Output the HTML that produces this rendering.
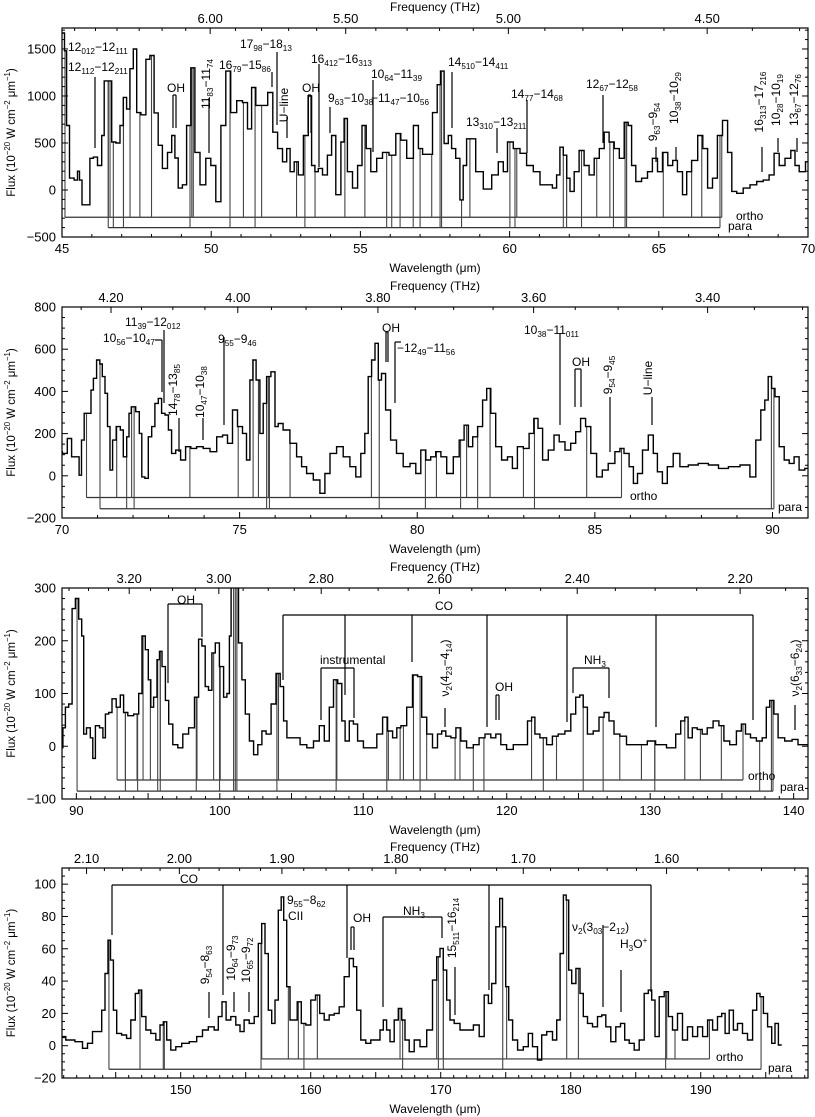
<!DOCTYPE html>
<html><head><meta charset="utf-8"><style>
html,body{margin:0;padding:0;background:#fff}
svg{display:block;font-family:"Liberation Sans",Arial,sans-serif}
</style></head><body>
<svg id="chart" xmlns="http://www.w3.org/2000/svg" width="815" height="1117" viewBox="0 0 815 1117"></svg>
<script>
// ---------- Panel 1 data ----------
const p1Wave=[45.04,45.13,45.18,45.32,45.49,45.55,45.62,45.72,45.88,45.99,46.11,46.27,46.39,46.44,46.61,46.72,46.89,47.0,47.11,47.22,47.33,47.45,47.56,47.73,47.89,48.0,48.17,48.28,48.45,48.62,48.73,48.84,48.95,49.12,49.23,49.4,49.51,49.74,49.9,50.07,50.24,50.41,50.57,50.74,50.97,51.13,51.3,51.41,51.58,51.8,51.99,52.14,52.31,52.47,52.59,52.7,52.86,52.98,53.2,53.31,53.42,53.53,53.65,53.81,53.98,54.09,54.26,54.43,54.48,54.65,54.82,54.99,55.12,55.27,55.43,55.66,55.82,56.1,56.27,56.44,56.66,56.89,57.0,57.17,57.33,57.5,57.65,57.72,57.89,58.0,58.11,58.28,58.39,58.5,58.62,58.78,58.95,59.29,59.51,59.73,59.85,60.01,60.24,60.46,60.68,60.91,61.13,61.35,61.52,61.63,61.74,61.86,61.97,62.08,62.25,62.41,62.58,62.75,62.92,63.09,63.25,63.42,63.59,63.76,63.92,64.03,64.15,64.31,64.54,64.7,64.87,65.04,65.21,65.39,65.54,65.71,65.88,65.99,66.21,66.4,66.55,66.72,66.88,67.05,67.22,67.39,67.5,67.72,67.94,68.17,68.39,68.61,68.78,68.95,69.12,69.34,69.51,69.62,69.79,70.04];
const p1Flux=[1670,1480,686,127,105,200,105,-158,-158,337,350,260,580,1160,1160,510,500,686,985,860,1290,1500,823,800,1390,1430,820,475,230,400,580,340,20,55,686,1300,400,55,337,260,-125,686,1265,823,950,930,650,1090,900,900,1037,615,440,300,440,195,300,160,580,1000,260,195,230,160,370,580,-50,510,760,195,20,260,686,440,195,337,400,370,600,530,337,686,440,380,380,823,1120,1265,495,580,440,337,-105,260,545,545,195,10,160,300,195,510,440,390,260,195,55,55,20,160,455,370,125,-15,195,420,260,160,337,440,615,510,440,337,720,686,260,90,125,195,337,195,400,260,315,195,-50,195,315,580,440,20,125,580,740,400,-15,-35,20,55,90,105,160,390,260,337,420,260,195,300];
const p1Ortho=[45.1,46.55,46.61,47.06,47.28,47.61,48.0,49.35,49.4,51.08,51.69,52.86,53.48,54.48,55.15,57.39,58.67,60.24,61.91,62.92,63.36,63.92,65.15,66.1,66.44,67.11];
const p1Para=[46.55,46.72,47.06,49.29,50.63,51.47,53.14,55.88,56.05,56.33,56.77,57.0,57.67,57.72,58.39,60.01,60.18,61.8,61.91,62.41,63.48,63.87,63.92,67.05];
const p1YTicks=[-500,0,500,1000,1500];
const p1XTicks=[45,50,55,60,65,70];
const p1FTicks=[6.00,5.50,5.00,4.50];

// ---------- Panel 2 data ----------
const p2Wave=[69.94,70.08,70.22,70.32,70.46,70.5,70.6,70.65,70.79,70.84,70.93,71.02,71.11,71.16,71.26,71.3,71.4,71.45,71.6,71.68,71.77,71.87,71.9,72.0,72.15,72.2,72.29,72.38,72.48,72.57,72.66,72.76,72.85,72.95,73.04,73.13,73.27,73.41,73.55,73.7,73.88,74.07,74.26,74.45,74.59,74.73,74.87,75.01,75.15,75.24,75.34,75.41,75.52,75.62,75.71,75.81,75.95,76.04,76.13,76.32,76.51,76.7,76.79,76.98,77.17,77.35,77.45,77.64,77.82,78.01,78.2,78.34,78.48,78.57,78.67,78.76,78.86,78.95,79.04,79.18,79.32,79.51,79.7,79.89,80.03,80.17,80.31,80.45,80.59,80.74,80.92,81.11,81.25,81.39,81.49,81.63,81.77,81.91,82.0,82.14,82.28,82.47,82.61,82.75,82.89,83.08,83.22,83.34,83.46,83.6,83.78,83.92,84.07,84.25,84.39,84.53,84.67,84.81,84.96,85.14,85.28,85.47,85.66,85.75,85.89,86.04,86.13,86.27,86.41,86.6,86.69,86.83,86.97,87.11,87.3,87.49,87.77,88.05,88.34,88.62,88.9,89.27,89.46,89.6,89.74,89.83,89.93,90.02,90.12,90.26,90.4,90.54,90.68,90.82,91.0];
const p2Flux=[114,106,177,90,90,3,169,296,296,406,462,549,530,470,391,233,27,169,233,217,90,185,296,327,304,201,-5,-12,185,233,343,367,296,288,217,106,122,75,138,130,138,130,114,185,193,154,312,233,201,75,454,549,454,201,343,470,493,233,248,217,154,90,43,11,-20,-83,11,106,138,90,43,-5,106,201,470,549,628,454,485,312,169,106,43,59,11,122,75,90,114,90,11,90,169,240,138,185,233,359,414,296,138,75,90,35,138,130,201,272,225,75,122,193,161,122,154,209,272,233,106,-5,27,59,114,130,106,43,-36,11,122,193,106,19,-36,43,106,43,51,59,51,35,43,51,-5,169,312,359,470,414,375,138,75,59,90,27,35];
const p2Ortho=[70.69,71.54,71.96,73.6,74.96,75.38,75.53,75.81,76.42,78.71,80.54,81.39,82.05,82.99,84.77,85.75];
const p2Para=[71.07,71.82,72.03,75.76,75.84,78.93,80.23,81.22,81.7,83.3,89.97,90.04];
const p2YTicks=[-200,0,200,400,600,800];
const p2XTicks=[70,75,80,85,90];
const p2FTicks=[4.20,4.00,3.80,3.60,3.40];

// ---------- Panel 3 data ----------
const p3Wave=[89.0,89.12,89.35,89.59,89.82,90.05,90.28,90.47,90.56,90.86,91.09,91.21,91.44,91.79,91.91,92.14,92.37,92.6,92.95,93.18,93.41,93.76,94.23,94.46,94.69,94.92,95.11,95.27,95.5,95.74,95.85,96.09,96.32,96.55,96.9,97.25,97.59,98.06,98.41,98.64,98.87,99.1,99.33,99.57,99.8,100.15,100.38,100.61,100.73,100.84,101.19,101.42,101.66,101.89,102.24,102.47,102.82,103.05,103.4,103.75,104.09,104.33,104.56,104.79,105.37,105.83,106.3,106.76,107.11,107.46,107.81,108.04,108.39,108.62,108.85,109.2,109.43,109.78,110.24,110.71,111.17,111.52,111.87,112.22,112.45,112.8,113.26,113.61,113.96,114.19,114.65,115.0,115.35,115.58,115.93,116.28,116.63,116.97,117.44,117.9,118.25,118.72,119.06,119.41,119.76,120.22,120.69,121.27,121.62,121.85,122.08,122.55,123.01,123.36,123.82,124.29,124.64,124.98,125.21,125.45,125.8,126.26,126.61,126.96,127.3,127.65,128.12,128.58,129.51,130.09,130.67,131.6,131.95,132.3,132.53,132.76,133.11,133.45,133.8,134.15,134.62,134.96,135.31,135.78,136.24,136.47,136.82,137.17,137.63,137.98,138.21,138.45,138.8,139.03,139.72,140.07,140.54,141.0];
const p3Flux=[-3,35,74,80,261,280,241,209,23,35,16,-23,39,35,16,61,64,90,74,97,64,58,61,100,209,183,126,74,93,164,180,151,87,42,3,-3,23,35,93,203,190,113,106,177,196,151,93,100,209,330,330,196,126,61,10,-16,3,29,23,80,138,113,48,16,16,3,-3,10,39,10,74,126,119,48,10,48,42,10,-3,-3,23,55,29,16,35,39,74,135,132,55,23,-3,23,29,19,16,35,10,-3,3,16,23,16,23,3,-6,3,3,48,55,23,16,3,19,23,29,61,93,97,74,23,29,55,64,48,23,19,3,3,10,3,-3,23,48,55,16,35,32,23,35,48,39,10,3,29,42,23,16,10,16,74,87,61,16,10,13,3,3];
const p3Ortho=[92.84,93.42,94.23,94.65,95.16,95.85,98.41,99.57,100.03,104.09,108.16,111.75,112.57,112.8,113.5,114.42,116.4,116.74,121.73,122.55,123.47,127.88,129.39,130.32,132.41,133.5,134.96,136.47];
const p3Para=[90.05,93.42,94.27,95.67,95.85,98.36,99.98,100.96,101.08,101.19,103.98,108.11,111.64,113.96,117.67,118.41,122.55,125.33,126.72,130.32,137.63,138.45,138.56];
const p3YTicks=[-100,0,100,200,300];
const p3XTicks=[90,100,110,120,130,140];
const p3FTicks=[3.20,3.00,2.80,2.60,2.40,2.20];

// ---------- Panel 4 data ----------
const p4Wave=[140.84,141.48,142.25,142.64,143.02,143.41,143.79,144.05,144.3,144.51,144.69,144.95,145.2,145.71,145.97,146.36,146.66,146.87,147.13,147.51,147.89,148.28,148.54,148.79,149.05,149.43,149.82,150.33,150.97,151.49,151.87,152.38,152.77,153.02,153.33,153.66,154.05,154.43,154.69,155.07,155.46,155.84,156.1,156.36,156.61,156.87,157.13,157.38,157.64,157.82,158.02,158.28,158.53,158.79,159.13,159.43,159.82,160.2,160.54,160.84,161.23,161.61,162.0,162.38,162.77,163.15,163.41,163.66,164.05,164.43,164.82,165.2,165.46,165.71,165.97,166.23,166.61,166.87,167.13,167.38,167.77,168.15,168.66,169.18,169.56,169.82,170.07,170.33,170.59,170.84,171.23,171.74,172.26,172.77,173.15,173.54,173.79,174.05,174.43,174.64,174.87,175.13,175.33,175.72,176.1,176.61,176.87,177.25,177.64,177.9,178.41,178.79,179.05,179.31,179.56,179.74,179.95,180.2,180.59,180.84,181.1,181.48,181.87,182.25,182.51,182.89,183.28,183.66,184.0,184.3,184.69,185.07,185.46,185.84,186.1,186.36,186.61,187.0,187.38,187.64,188.02,188.41,188.79,189.18,189.56,189.95,190.33,190.72,191.1,191.48,191.74,192.0,192.38,192.64,193.02,193.41,193.79,194.18,194.43,194.69,194.95,195.33,195.59,195.84,196.1];
const p4Flux=[5.6,3.5,2.5,-1.6,1.5,8.7,8.7,22,44.7,65.3,53,22,7.6,6.6,4.5,15.9,32.4,34.4,18,9.7,7.6,3.5,12.8,14.8,3.5,-2.7,-0.6,1.5,2.5,5.6,9.7,11.7,9.7,18,27.2,15.9,18,12.8,8.7,15.9,13.8,18,63.3,75.6,57,22,13.8,28.2,83.9,92.1,77.7,36.5,15.9,15.9,27.2,13.8,12.8,28.2,31.3,20,15.9,19,20,24.1,42.7,54,48.9,22,3.5,1.5,3.5,3.5,9.7,15.9,9.7,2.5,15.9,23,15.9,3.5,-3.7,3.5,-0.6,9.7,40.6,55,60.2,46.8,28.2,15.9,13.8,9.7,9.7,12.8,5.6,31.3,26.2,38.5,73.6,91.1,73.6,36.5,15.9,3.5,-2.7,-0.6,7.6,-0.6,-8.9,6.6,8.7,3.5,15.9,57.1,93.2,90.1,46.8,38.5,47.8,32.4,18,13.8,11.7,18,19,11.7,2.5,11.7,13.8,3.5,1.5,-2.7,3.5,32.4,34.4,28.2,5.6,30.3,33.4,18,9.7,20,3.5,11.7,5.6,11.7,5.6,15.9,9.7,18,20,7.6,22,9.7,13.8,7.6,3.5,22,32.4,30.3,20,11.7,1.5,13.8,0.4];
const p4Ortho=[156.23,158.28,159.05,160.51,166.87,169.69,170.2,175.07,179.69,180.59,187.38,188.02,190.67];
const p4Para=[144.48,146.87,148.66,148.74,156.18,159.48,167.07,169.82,170.2,174.77,187.3,194.64];
const p4YTicks=[-20,0,20,40,60,80,100];
const p4XTicks=[150,160,170,180,190];
const p4FTicks=[2.10,2.00,1.90,1.80,1.70,1.60];

// ---------- layout ----------
const NS='http://www.w3.org/2000/svg';
const svg=document.getElementById('chart');
const C=299.792458;
function mk(tag,attrs,parent){const e=document.createElementNS(NS,tag);for(const k in attrs)e.setAttribute(k,attrs[k]);(parent||svg).appendChild(e);return e;}
function rich(parent,str,x,y,size,rot,anchor){
  const t=mk('text',{x:x,y:y,'font-size':size,fill:'#000'},parent);
  if(anchor)t.setAttribute('text-anchor',anchor);
  if(rot)t.setAttribute('transform','rotate(-90 '+x+' '+y+')');
  
  
  const re=/_\{([^}]*)\}|\^\{([^}]*)\}|([^_^]+)/g;let m,off=0;
  while((m=re.exec(str))){
    const s=mk('tspan',{},t);
    if(m[1]!==undefined){s.textContent=m[1];s.setAttribute('font-size',size*0.68);s.setAttribute('dy',3-off);off=3;}
    else if(m[2]!==undefined){s.textContent=m[2];s.setAttribute('font-size',size*0.68);s.setAttribute('dy',-5-off);off=-5;}
    else{s.textContent=m[3];s.setAttribute('dy',-off);off=0;}
  }
  return t;
}
function seg(parent,a,col,w){mk('line',{x1:a[0],y1:a[1],x2:a[2],y2:a[3],stroke:col||'#000','stroke-width':w||1},parent);}

const panels=[
 {id:1,wave:p1Wave,flux:p1Flux,ortho:p1Ortho,para:p1Para,yt:p1YTicks,xt:p1XTicks,ft:p1FTicks,x0:62,x1:808,y0:28,y1:237,lmin:45,lmax:70,fmin:-500,fmax:1723,ymin:100,xmin:1,fminor:0.1,ob:-290,pb:-400,xfmt:0},
 {id:2,wave:p2Wave,flux:p2Flux,ortho:p2Ortho,para:p2Para,yt:p2YTicks,xt:p2XTicks,ft:p2FTicks,x0:62,x1:808,y0:307,y1:518,lmin:70,lmax:91,fmin:-200,fmax:800,ymin:50,xmin:1,fminor:0.05,ob:-103,pb:-156,xfmt:0},
 {id:3,wave:p3Wave,flux:p3Flux,ortho:p3Ortho,para:p3Para,yt:p3YTicks,xt:p3XTicks,ft:p3FTicks,x0:62,x1:808,y0:588,y1:799,lmin:89,lmax:141,fmin:-100,fmax:300,ymin:20,xmin:1,fminor:0.05,ob:-64,pb:-85,xfmt:0},
 {id:4,wave:p4Wave,flux:p4Flux,ortho:p4Ortho,para:p4Para,yt:p4YTicks,xt:p4XTicks,ft:p4FTicks,x0:62,x1:808,y0:868,y1:1078,lmin:140.87,lmax:198.25,fmin:-20,fmax:110,ymin:5,xmin:1,fminor:0.02,ob:-8.2,pb:-14.6,xfmt:0}
];

panels.forEach(p=>{
  const g=mk('g',{});
  
  
  const X=l=>p.x0+(l-p.lmin)/(p.lmax-p.lmin)*(p.x1-p.x0);
  const Y=f=>p.y1-(f-p.fmin)/(p.fmax-p.fmin)*(p.y1-p.y0);
  const cid='clip'+p.id;
  const cp=mk('clipPath',{id:cid},g);mk('rect',{x:p.x0,y:p.y0,width:p.x1-p.x0,height:p.y1-p.y0},cp);
  const fAt=l=>{let bi=0,bd=1e9;p.wave.forEach((w,i)=>{const d=Math.abs(w-l);if(d<bd){bd=d;bi=i;}});return p.flux[bi];};

  // marker bars and lines
  const mg=mk('g',{'clip-path':'url(#'+cid+')'},g);
  
  
  [[p.ortho,p.ob,'ortho'],[p.para,p.pb,'para']].forEach(([arr,lev,nm])=>{
    const lo=Math.min(...arr),hi=Math.max(...arr);
    const bar=mk('line',{x1:X(lo),y1:Y(lev),x2:X(hi),y2:Y(lev),stroke:'#333','stroke-width':1.2},mg);
    
    
    arr.forEach(l=>{
      const ln=mk('line',{x1:X(l),y1:Y(lev),x2:X(l),y2:Y(fAt(l)),stroke:'#444','stroke-width':1.1},mg);
      
      
    });
  });

  // spectrum step line
  let d='';
  for(let i=0;i<p.wave.length;i++){
    const a=i===0?p.wave[0]-(p.wave[1]-p.wave[0])/2:(p.wave[i-1]+p.wave[i])/2;
    const b=i===p.wave.length-1?p.wave[i]+(p.wave[i]-p.wave[i-1])/2:(p.wave[i]+p.wave[i+1])/2;
    d+=(i===0?'M':'L')+X(a).toFixed(1)+' '+Y(p.flux[i]).toFixed(1)+'L'+X(b).toFixed(1)+' '+Y(p.flux[i]).toFixed(1);
  }
  const sp=mk('path',{d:d,fill:'none',stroke:'#000','stroke-width':1.4,'clip-path':'url(#'+cid+')'},g);
  
  

  // frame
  const fr=mk('rect',{x:p.x0,y:p.y0,width:p.x1-p.x0,height:p.y1-p.y0,fill:'none',stroke:'#000','stroke-width':1.2},g);
  
  

  // y ticks
  const ya=mk('g',{},g);
  
  
  for(let v=Math.ceil(p.fmin/p.ymin)*p.ymin;v<=p.fmax;v+=p.ymin){
    const major=p.yt.includes(Math.round(v*1000)/1000);const L=major?6:3;
    seg(ya,[p.x0,Y(v),p.x0+L,Y(v)]);seg(ya,[p.x1,Y(v),p.x1-L,Y(v)]);
  }
  p.yt.forEach(v=>{const t=mk('text',{x:p.x0-6,y:Y(v)+4.5,'font-size':13,'text-anchor':'end',fill:'#000'},ya);t.textContent=(v<0?'−'+(-v):v);
    
    });
  const yt=rich(ya,'Flux (10^{−20} W cm^{−2} μm^{−1})',15,(p.y0+p.y1)/2,11.5,true,'middle');
  

  // x ticks
  const xa=mk('g',{},g);
  
  
  for(let v=Math.ceil(p.lmin);v<=p.lmax;v+=p.xmin){
    const major=v%5===0;const L=major?6:3;seg(xa,[X(v),p.y1,X(v),p.y1-L]);
  }
  p.xt.forEach(v=>{const t=mk('text',{x:X(v),y:p.y1+16,'font-size':13,'text-anchor':'middle',fill:'#000'},xa);t.textContent=v;
    
    });
  const xt=rich(xa,'Wavelength (μm)',(p.x0+p.x1)/2,p.y1+35,12,false,'middle');
  

  // frequency ticks
  const fa=mk('g',{},g);
  
  
  const fhi=C/p.lmin,flo=C/p.lmax;
  for(let v=Math.ceil(flo/p.fminor)*p.fminor;v<=fhi;v+=p.fminor){
    const isMaj=p.ft.some(t=>Math.abs(t-v)<1e-6);const L=isMaj?6:3;const x=X(C/v);seg(fa,[x,p.y0,x,p.y0+L]);
  }
  p.ft.forEach(v=>{const t=mk('text',{x:X(C/v),y:p.y0-5,'font-size':13,'text-anchor':'middle',fill:'#000'},fa);t.textContent=v.toFixed(2);
    
    });
  const ft=rich(fa,'Frequency (THz)',(p.x0+p.x1)/2,p.y0-17,12,false,'middle');
  
});

// ---------- annotations ----------
const ann=mk('g',{});


const labels=[
 ['12_{012}−12_{111}',68,51,0],['12_{112}−12_{211}',68,71,0],['OH',167,92,0],['11_{83}−11_{74}',210,84,1],['17_{98}−18_{13}',240,48,0],['16_{79}−15_{86}',219,69,0],['U−line',288,105,1],['OH',302,92,0],['16_{412}−16_{313}',311,63,0],['10_{64}−11_{39}',371,78,0],['9_{63}−10_{38}',328,102,0],['−11_{47}−10_{56}',371,102,0],['14_{510}−14_{411}',448,66,0],['13_{310}−13_{211}',466,126,0],['14_{77}−14_{68}',511,98,0],['12_{67}−12_{58}',586,88,0],['9_{63}−9_{54}',657,122,1],['10_{38}−10_{29}',678,98,1],['16_{313}−17_{216}',763,102,1],['10_{28}−10_{19}',780,100,1],['13_{67}−12_{76}',798,100,1],['ortho',736,220,0],['para',728,230,0],
 ['11_{39}−12_{012}',125,326,0],['10_{56}−10_{47}',103,342,0],['14_{78}−13_{85}',177,390,1],['10_{47}−10_{38}',204,392,1],['9_{55}−9_{46}',218,343,0],['OH',382,332,0],['−12_{49}−11_{56}',397,352,0],['10_{38}−11_{011}',524,334,0],['OH',572,366,0],['9_{54}−9_{45}',612,375,1],['U−line',652,378,1],['ortho',630,500,0],['para',778,511,0],
 ['OH',177,604,0],['CO',435,610,0],['instrumental',320,664,0],['ν_{2}(4_{23}−4_{14})',449,668,1],['OH',495,691,0],['NH_{3}',584,664,0],['ν_{2}(6_{33}−6_{24})',799,668,1],['ortho',748,780,0],['para',780,791,0],
 ['CO',180,883,0],['9_{54}−8_{63}',209,965,1],['10_{64}−9_{73}',235,958,1],['10_{65}−9_{72}',250,960,1],['9_{55}−8_{62}',287,904,0],['CII',288,920,0],['OH',353,922,0],['NH_{3}',403,915,0],['15_{511}−16_{214}',456,928,1],['ν_{2}(3_{03}−2_{12})',572,931,0],['H_{3}O^{+}',620,948,0],['ortho',716,1061,0],['para',768,1072,0]
];
labels.forEach(l=>rich(ann,l[0],l[1],l[2],12,l[3],l[3]?'middle':null));
const segs=[
 [95,77,95,148],[173,95,173,128],[176,95,176,128],[173,95,176,95],[209,98,209,153],[277,52,277,125],[272,72,272,87],[287,117,287,138],[308,95,308,133],[311,95,311,133],[308,95,311,95],[319,64,319,167],[330,107,330,133],[373,80,373,152],
 [452,72,452,128],[497,128,497,153],[527,100,527,153],[603,95,603,143],[656,147,656,162],[676,147,676,160],[762,147,762,172],[778,138,778,152],[797,138,797,152],
 [164,330,164,403],[155,340,162,340],[162,340,162,392],[179,418,179,452],[203,418,203,440],[224,337,224,425],[386,332,386,362],[388,332,388,362],[386,332,388,332],[395,342,401,342],[395,342,395,403],[560,333,560,425],[575,369,575,407],[581,369,581,407],[575,369,581,369],[610,397,610,452],[652,397,652,425],
 [168,604,202,604],[168,604,168,683],[202,604,202,637],[283,615,753,615],[283,615,283,680],[345,615,345,695],[412,615,412,662],[487,615,487,727],[567,615,567,722],[656,615,656,727],[753,615,753,720],[321,668,354,668],[321,668,321,720],[354,668,354,718],[445,708,445,727],[496,695,496,720],[499,695,499,720],[496,695,499,695],[573,668,609,668],[573,668,573,693],[609,668,609,698],[795,705,795,730],
 [112,885,651,885],[112,885,112,935],[223,885,223,995],[347,885,347,958],[489,885,489,990],[651,885,651,992],[209,992,209,1018],[234,992,234,1012],[249,992,249,1012],[351,927,351,950],[354,927,354,950],[351,927,354,927],[383,917,442,917],[383,917,383,1007],[442,917,442,938],[455,967,455,1015],[603,925,603,1007],[621,970,621,1012]
];
segs.forEach(s=>seg(ann,s,'#000',1.2));
</script>
</body></html>
